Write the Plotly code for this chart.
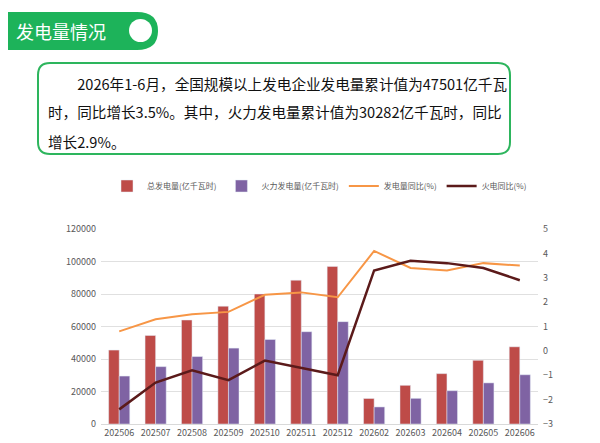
import plotly.graph_objects as go

months = ["202506","202507","202508","202509","202510","202511","202512","202602","202603","202604","202605","202606"]
total_gen = [45500,54500,64000,72500,80000,88500,97000,15700,23800,31000,39200,47500]
thermal_gen = [29500,35300,41500,46700,52000,56800,63000,10500,15800,20500,25300,30300]
total_yoy = [0.8,1.3,1.5,1.6,2.3,2.4,2.2,4.1,3.4,3.3,3.6,3.5]
thermal_yoy = [-2.4,-1.3,-0.8,-1.2,-0.4,-0.7,-1.0,3.3,3.7,3.6,3.4,2.9]

F = "Noto Sans CJK SC"
W, H = 600, 443
L, R, T, B = 93, 70, 221, 27
PW, PH = W - L - R, H - T - B
def px(x): return (x - L) / PW
def py(y): return (H - B - y) / PH

fig = go.Figure()
fig.add_bar(x=months, y=total_gen, name="总发电量(亿千瓦时)", marker_color="#BE4B48")
fig.add_bar(x=months, y=thermal_gen, name="火力发电量(亿千瓦时)", marker_color="#7F63A3")
fig.add_scatter(x=months, y=total_yoy, name="发电量同比(%)", yaxis="y2", mode="lines",
                line=dict(color="#F79646", width=2))
fig.add_scatter(x=months, y=thermal_yoy, name="火电同比(%)", yaxis="y2", mode="lines",
                line=dict(color="#5B1A1A", width=2.5))

fig.update_layout(
    width=W, height=H, margin=dict(l=L, r=R, t=T, b=B),
    paper_bgcolor="white", plot_bgcolor="white",
    font=dict(family=F, size=9, color="#595959"),
    barmode="group", bargap=0.42, bargroupgap=0,
    showlegend=True,
    legend=dict(orientation="h", x=0.5, xanchor="center", y=1 - 178 / H, yanchor="middle",
                yref="container", font=dict(size=8, color="#595959"),
                traceorder="normal", itemwidth=30),
    xaxis=dict(type="category", showgrid=False, linecolor="#D9D9D9", ticks="",
               tickfont=dict(size=9)),
    yaxis=dict(range=[0,120000], dtick=20000, tickformat="d", gridcolor="#E0E0E0", zeroline=False,
               tickfont=dict(size=9), ticksuffix="  "),
    yaxis2=dict(range=[-3,5], dtick=1, overlaying="y", side="right", showgrid=False,
                zeroline=False, tickfont=dict(size=9), tickprefix="  "),
)
shapes = []
shapes.append(dict(type="path", xref="paper", yref="paper", layer="above",
    path=f"M {px(0)},{py(4)} L {px(129)},{py(4)} Q {px(150)},{py(4)} {px(150)},{py(23)} Q {px(150)},{py(42)} {px(129)},{py(42)} L {px(0)},{py(42)} Z",
    fillcolor="#1DB35A", line=dict(width=0)))
shapes.append(dict(type="circle", xref="paper", yref="paper", layer="above",
    x0=px(121), x1=px(144), y0=py(34), y1=py(11), fillcolor="white", line=dict(width=0)))
r = 12
x0, x1, y0, y1 = 30, 502, 55, 146
shapes.append(dict(type="path", xref="paper", yref="paper", layer="above",
    path=(f"M {px(x0+r)},{py(y0)} L {px(x1-r)},{py(y0)} Q {px(x1)},{py(y0)} {px(x1)},{py(y0+r)} "
          f"L {px(x1)},{py(y1-r)} Q {px(x1)},{py(y1)} {px(x1-r)},{py(y1)} L {px(x0+r)},{py(y1)} "
          f"Q {px(x0)},{py(y1)} {px(x0)},{py(y1-r)} L {px(x0)},{py(y0+r)} Q {px(x0)},{py(y0)} {px(x0+r)},{py(y0)} Z"),
    fillcolor="rgba(0,0,0,0)", line=dict(color="#2DB55D", width=2)))
fig.update_layout(shapes=shapes)

ann = [
    dict(text="发电量情况", x=px(6), y=py(23), xanchor="left", yanchor="middle",
         font=dict(size=18, color="white", family=F)),
    dict(text="　　2026年1-6月，全国规模以上发电企业发电量累计值为47501亿千瓦", x=px(38), y=py(75)),
    dict(text="时，同比增长3.5%。其中，火力发电量累计值为30282亿千瓦时，同比", x=px(38), y=py(104)),
    dict(text="增长2.9%。", x=px(38), y=py(133)),
]
for a in ann[1:]:
    a.update(xanchor="left", yanchor="middle", font=dict(size=14.6, color="#111111", family=F))
for a in ann:
    a.update(xref="paper", yref="paper", showarrow=False)
fig.update_layout(annotations=ann)
fig.write_html("out.html")
